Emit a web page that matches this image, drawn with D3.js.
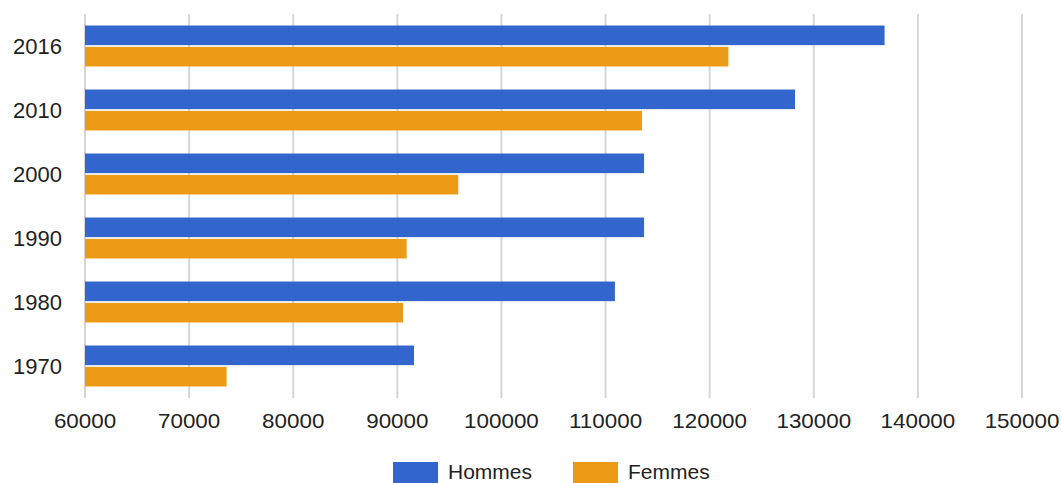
<!DOCTYPE html>
<html>
<head>
<meta charset="utf-8">
<script src="https://cdn.jsdelivr.net/npm/d3@7"></script>
<style>
  body { margin: 0; background: #fff; }
  svg { display: block; font-family: Arial, "Liberation Sans", sans-serif; }
</style>
</head>
<body>
<svg id="chart" width="1062" height="483"></svg>
<script>
// Years, top to bottom
var years = ['2016', '2010', '2000', '1990', '1980', '1970'];

// Values
var hommes = [136800, 128200, 113700, 113700, 110900, 91600];
var femmes = [121800, 113500, 95850, 90900, 90550, 73600];

var seriesNames = ['Hommes', 'Femmes'];
var seriesColors = ['#3366cc', '#ed9b16'];

var xTicks = [60000, 70000, 80000, 90000, 100000, 110000, 120000, 130000, 140000, 150000];

var svg = d3.select('#chart');

// Plot area (don't call it "top", that's window.top)
var plotLeft = 85, plotRight = 1022, plotTop = 14, plotBottom = 398;

var x = d3.scaleLinear().domain([60000, 150000]).range([plotLeft, plotRight]);
var y = d3.scaleBand().domain(years).range([plotTop, plotBottom]).paddingInner(0.36).paddingOuter(0.18);
var inner = d3.scaleBand().domain(seriesNames).range([0, y.bandwidth()]).paddingInner(0.08);

// Gridlines
svg.append('g')
  .selectAll('line')
  .data(xTicks)
  .enter().append('line')
    .attr('x1', function(d) { return x(d); })
    .attr('x2', function(d) { return x(d); })
    .attr('y1', plotTop)
    .attr('y2', plotBottom)
    .attr('stroke', '#d6d6d6')
    .attr('stroke-width', 2);

// Bars
var rows = years.map(function(yr, i) {
  return { year: yr, values: [hommes[i], femmes[i]] };
});

var group = svg.append('g').selectAll('g')
  .data(rows)
  .enter().append('g')
    .attr('transform', function(d) { return 'translate(0,' + y(d.year) + ')'; });

group.selectAll('rect')
  .data(function(d) { return d.values.map(function(v, j) { return { name: seriesNames[j], value: v, color: seriesColors[j] }; }); })
  .enter().append('rect')
    .attr('x', x(60000))
    .attr('y', function(d) { return inner(d.name); })
    .attr('width', function(d) { return x(d.value) - x(60000); })
    .attr('height', inner.bandwidth())
    .attr('fill', function(d) { return d.color; });

// Year labels
svg.append('g')
  .selectAll('text')
  .data(years)
  .enter().append('text')
    .attr('x', 62)
    .attr('y', function(d) { return y(d) + y.bandwidth() / 2; })
    .attr('dy', '0.36em')
    .attr('text-anchor', 'end')
    .attr('font-size', 22)
    .attr('fill', '#222')
    .text(function(d) { return d; });

// X tick labels (the reference text is a bit wide, so stretch it a little)
svg.append('g')
  .selectAll('text')
  .data(xTicks)
  .enter().append('text')
    .attr('transform', function(d) { return 'translate(' + x(d) + ',428) scale(1.12,1)'; })
    .attr('text-anchor', 'middle')
    .attr('font-size', 20)
    .attr('fill', '#222')
    .text(function(d) { return d; });

// Legend, sits right on the bottom edge like the reference
var legendX = [393, 573];
var legend = svg.append('g').selectAll('g')
  .data(seriesNames)
  .enter().append('g')
    .attr('transform', function(d, i) { return 'translate(' + legendX[i] + ',462)'; });

legend.append('rect')
  .attr('width', 45)
  .attr('height', 21)
  .attr('fill', function(d, i) { return seriesColors[i]; });

legend.append('text')
  .attr('x', 55)
  .attr('y', 17)
  .attr('font-size', 21)
  .attr('fill', '#222')
  .text(function(d) { return d; });
</script>
</body>
</html>
